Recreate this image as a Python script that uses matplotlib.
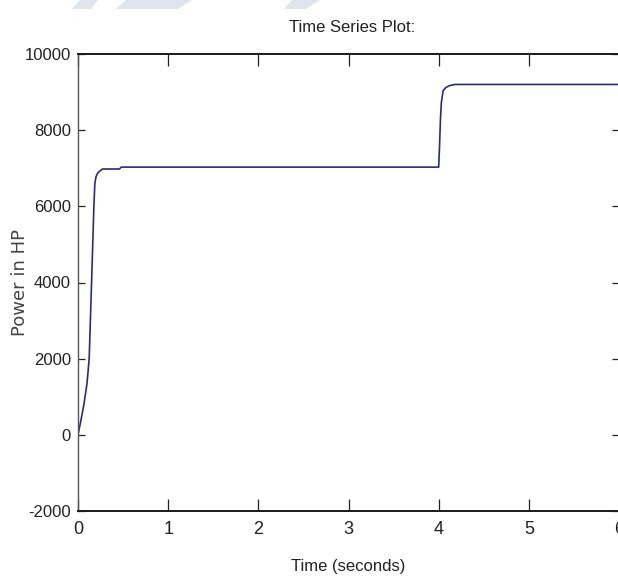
import matplotlib.pyplot as plt
from matplotlib.patches import Polygon

# time (s) and power (HP)
time_s = [0.0, 0.03, 0.065, 0.10, 0.124, 0.14, 0.158, 0.176, 0.187, 0.20, 0.22, 0.27,
          0.46, 0.48, 1.0, 2.0, 3.0, 4.0, 4.01, 4.02, 4.03, 4.05, 4.08, 4.12, 4.18, 5.0, 6.0]
power_hp = [0, 350, 790, 1350, 2000, 3200, 4580, 5990, 6610, 6780, 6880, 6980,
            6980, 7030, 7030, 7030, 7030, 7030, 7600, 8300, 8730, 9040, 9120, 9170, 9200, 9200, 9200]

xticks = [0, 1, 2, 3, 4, 5, 6]
yticks = [-2000, 0, 2000, 4000, 6000, 8000, 10000]

narrow = ['Liberation Sans', 'DejaVu Sans']

fig = plt.figure(figsize=(6.18, 5.79), dpi=100)
W, H = 618, 579
ax = fig.add_axes([78 / W, (H - 511) / H, (619 - 78) / W, (511 - 54) / H])

ax.plot(time_s, power_hp, color='#2b2b78', linewidth=1.2)

ax.set_xlim(0, 6)
ax.set_ylim(-2000, 10000)
ax.set_xticks(xticks)
ax.set_yticks(yticks)
ax.set_xticklabels([str(v) for v in xticks], family=narrow, fontsize=13)
ax.set_yticklabels([str(v) for v in yticks], family=narrow, fontsize=12)

ax.tick_params(axis='x', direction='in', length=8.5, width=0.9, top=True, pad=7, colors='#222222')
ax.tick_params(axis='y', direction='in', length=5, width=0.9, right=True, pad=5, colors='#222222')

for s in ['top', 'bottom']:
    ax.spines[s].set_linewidth(1.4)
    ax.spines[s].set_color('#1a1a1a')
for s in ['left', 'right']:
    ax.spines[s].set_linewidth(1.0)
    ax.spines[s].set_color('#555555')

# labels
fig.text(352 / W, 1 - 28 / H, 'Time Series Plot:', family=narrow, fontsize=12,
         ha='center', va='center', color='#222222')
fig.text(348 / W, 1 - 566 / H, 'Time (seconds)', family=narrow, fontsize=12,
         ha='center', va='center', color='#222222')
fig.text(20 / W, 1 - 282 / H, 'Power in HP', family='DejaVu Sans', fontsize=13,
         rotation=90, ha='center', va='center', color='#444444')

# faded watermark pieces along the top edge
for pts in [[(80, 0), (98, 0), (91, 9), (72, 9)],
            [(126, 0), (192, 0), (178, 9), (116, 9)],
            [(292, 0), (320, 0), (306, 9), (284, 9)]]:
    fig.patches.append(Polygon([(x / W, 1 - y / H) for x, y in pts], closed=True,
                               transform=fig.transFigure, facecolor='#dfe5ee',
                               edgecolor='none'))

fig.savefig('out.png', dpi=100)
